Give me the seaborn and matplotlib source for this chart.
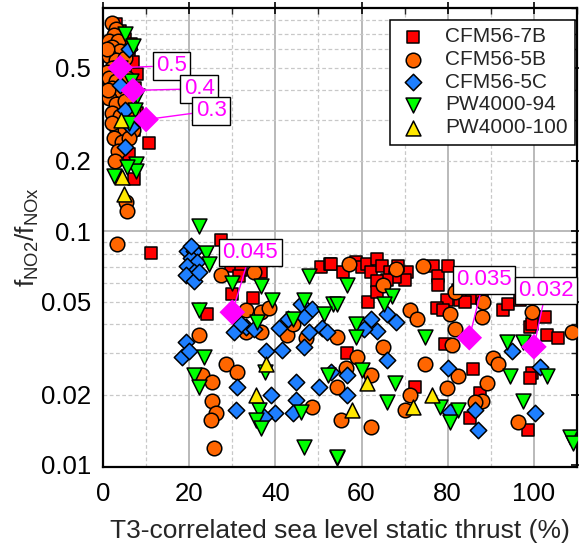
import numpy as np
import pandas as pd
import matplotlib
matplotlib.use("Agg")
import matplotlib.pyplot as plt
import seaborn as sns
from matplotlib.ticker import FixedLocator, NullFormatter, FixedFormatter

# ---------------- data ----------------
cfm7b_x = [4, 5, 3.5, 6, 7, 8, 5, 7.5, 6, 8, 9, 7.2, 6, 7.2, 10.7, 4.5, 6.5, 3, 2.5, 5.5,
           11.2, 27.4, 29.8, 36.7, 30, 34.7, 24.2, 50.7, 52.6, 53, 55.6, 58.8, 60, 61.2, 62.3, 63.7,
           64.7, 66.5, 70.5, 70, 67.7, 65.8, 63.7, 61.4, 63.5, 76.5, 77.7, 77.7, 80, 82.3, 79.8, 82.8,
           85.6, 77.4, 78.8, 79.3, 92.8, 94, 96.7, 102.6, 99.1, 103, 105.6, 56.7, 85.8, 72.3, 87.4,
           85.1, 98.6, 99.5, 99.1, 99.5, 32, 31.5, 84, 88, 68.5]
cfm7b_y = [0.72, 0.66, 0.62, 0.58, 0.53, 0.47, 0.45, 0.41, 0.35, 0.32, 0.30, 0.27, 0.214, 0.167, 0.239, 0.59, 0.63, 0.77, 0.52, 0.40,
           0.081, 0.092, 0.071, 0.067, 0.054, 0.052, 0.044, 0.070, 0.072, 0.072, 0.067, 0.074, 0.070, 0.072, 0.067, 0.076,
           0.071, 0.067, 0.067, 0.062, 0.0635, 0.062, 0.061, 0.050, 0.055, 0.071, 0.064, 0.059, 0.071, 0.056, 0.051, 0.051,
           0.052, 0.047, 0.046, 0.033, 0.046, 0.049, 0.051, 0.043, 0.039, 0.036, 0.035, 0.030, 0.0256, 0.0216, 0.0204,
           0.0159, 0.0141, 0.0248, 0.0236, 0.040, 0.068, 0.064, 0.050, 0.052, 0.071]

cfm5b_x = [2, 3, 2.5, 1.5, 3.5, 2, 4, 1.5, 3, 5, 2, 1, 1.5, 3, 5.5, 2, 4, 1.5, 3, 5, 2, 4, 6, 3, 5, 7,
           2.5, 4.5, 3.5, 6, 6.5, 2, 7, 5.3, 5.6, 3.3, 1, 1.2, 2.8,
           27.4, 35.1, 33.3, 36.7, 38.6, 33.3, 36.7, 42.8, 54.2, 22.3, 28.6, 31.2, 23, 25.3, 25.3, 26.3,
           25.1, 25.8, 48.4, 54.2, 57.2, 68.1, 64.9, 74.2, 81.6, 88.1, 87.9, 80.5, 81.6, 80.9, 99.5, 108.8,
           64.9, 59, 56.5, 62.3, 55.3, 71.2, 72.8, 74.7, 82.3, 79.8, 71.2, 70, 62.3, 89, 87.9, 86.3,
           90.5, 91.6, 96.3, 44, 47]
cfm5b_y = [0.78, 0.73, 0.69, 0.65, 0.65, 0.61, 0.59, 0.56, 0.54, 0.55, 0.50, 0.48, 0.45, 0.44, 0.45, 0.41, 0.40, 0.37, 0.35, 0.36, 0.32, 0.31, 0.31, 0.28, 0.27, 0.27,
           0.25, 0.24, 0.22, 0.25, 0.40, 0.29, 0.33, 0.133, 0.122, 0.088, 0.60, 0.40, 0.20,
           0.065, 0.067, 0.046, 0.045, 0.047, 0.037, 0.037, 0.036, 0.0354, 0.036, 0.027, 0.025, 0.0243, 0.0227, 0.0187, 0.0167,
           0.0156, 0.0118, 0.0177, 0.0216, 0.072, 0.069, 0.059, 0.071, 0.055, 0.050, 0.043, 0.044, 0.038, 0.0327, 0.045, 0.037,
           0.032, 0.029, 0.026, 0.0243, 0.0156, 0.046, 0.042, 0.027, 0.024, 0.0214, 0.020, 0.0172, 0.0146, 0.0225, 0.0187, 0.0185,
           0.0288, 0.0269, 0.0153, 0.040, 0.035]

cfm5c_x = [6, 4, 5, 6.5, 5,
           19.5, 21.2, 20.5, 21.9, 19.5, 21.2, 19.3, 21.2, 22.3, 20.5, 30.5, 33.3, 40.9, 37.9, 41.6, 46.7,
           46, 48.4, 46.7, 50.9, 47.9, 19.3, 18.4, 20, 31.2, 30.9, 39.1, 39.8, 37.4, 44.9, 44.9, 44, 50.2,
           62.3, 65.8, 63.7, 66, 56.7, 56.7, 80, 86.3, 80.5, 87, 94.9, 101.4, 100.2, 32, 35, 43, 52, 53, 68, 60.5]
cfm5c_y = [0.60, 0.42, 0.33, 0.28, 0.23,
           0.082, 0.082, 0.077, 0.074, 0.071, 0.067, 0.065, 0.061, 0.067, 0.086, 0.037, 0.039, 0.0387, 0.0306, 0.031, 0.0318,
           0.0486, 0.0463, 0.043, 0.0387, 0.0369, 0.0334, 0.029, 0.0306, 0.0216, 0.0172, 0.020, 0.0167, 0.016, 0.0227, 0.019, 0.0167, 0.0216,
           0.0419, 0.044, 0.0373, 0.0282, 0.020, 0.0243, 0.0261, 0.0172, 0.0169, 0.0141, 0.0306, 0.0263, 0.0167, 0.040, 0.038, 0.042, 0.037, 0.025, 0.041, 0.038]

pw94_x = [5, 7, 8, 6.5, 7.5, 7.7, 7.7, 5.6, 2.6, 4, 6,
          22.3, 24, 24.7, 22.3, 36.7, 39.3, 35.8, 46.7, 53.3, 51.4, 23.5, 21.2, 22.3, 37.7, 36.3, 35.6,
          36.7, 46, 52.1, 46.7, 54.2, 47.9, 67, 65.3, 56.7, 54.2, 58.8, 58.8, 60.2, 54.4, 74.7, 67.7,
          65.8, 82.3, 80.5, 78.1, 94.4, 93.7, 97.4, 97.4, 108.4, 109, 103, 44, 30]
pw94_y = [0.70, 0.62, 0.38, 0.44, 0.33, 0.194, 0.181, 0.188, 0.172, 0.50, 0.29,
          0.105, 0.081, 0.072, 0.046, 0.058, 0.051, 0.041, 0.051, 0.0486, 0.044, 0.029, 0.0243, 0.0216, 0.0249, 0.0172, 0.0156,
          0.0144, 0.0169, 0.0243, 0.0119, 0.0107, 0.064, 0.0526, 0.0486, 0.059, 0.0486, 0.040, 0.0354, 0.0255, 0.0108, 0.0354, 0.0225,
          0.0185, 0.0172, 0.0153, 0.0177, 0.0239, 0.0337, 0.0334, 0.0187, 0.0132, 0.0124, 0.0239, 0.042, 0.060]

pw100_x = [4.4, 4.9, 4.2, 35.6, 37.9, 61.2, 57.9, 76.3, 71.9]
pw100_y = [0.17, 0.144, 0.30, 0.020, 0.0269, 0.0225, 0.0172, 0.020, 0.0177]

hl_x = [4, 7, 10, 30, 85, 100]
hl_y = [0.5, 0.4, 0.3, 0.045, 0.035, 0.032]
hl_labels = ["0.5", "0.4", "0.3", "0.045", "0.035", "0.032"]

series_names = ["CFM56-7B", "CFM56-5B", "CFM56-5C", "PW4000-94", "PW4000-100"]
series_x = [cfm7b_x, cfm5b_x, cfm5c_x, pw94_x, pw100_x]
series_y = [cfm7b_y, cfm5b_y, cfm5c_y, pw94_y, pw100_y]

y_major = [0.01, 0.02, 0.05, 0.1, 0.2, 0.5]
x_major = [0, 20, 40, 60, 80, 100]

# ---------------- style ----------------
sns.set_theme(style="white")
plt.rcParams["font.family"] = ["Liberation Sans", "DejaVu Sans"]
plt.rcParams["mathtext.default"] = "regular"

colors = {"CFM56-7B": "#FF0000", "CFM56-5B": "#FF6600", "CFM56-5C": "#1E7FFF",
          "PW4000-94": "#00FF00", "PW4000-100": "#FFE800"}
markers = {"CFM56-7B": "s", "CFM56-5B": "o", "CFM56-5C": "D",
           "PW4000-94": "v", "PW4000-100": "^"}
sizes = {"CFM56-7B": 85, "CFM56-5B": 110, "CFM56-5C": 70, "PW4000-94": 115, "PW4000-100": 115}

frames = []
for n, xs, ys in zip(series_names, series_x, series_y):
    frames.append(pd.DataFrame({"thrust": xs, "ratio": ys, "engine": n}))
df = pd.concat(frames, ignore_index=True)

fig = plt.figure(figsize=(5.79, 5.50), dpi=100)
ax = fig.add_axes([103 / 579, 83 / 550, 474 / 579, 459 / 550])

ax.set_yscale("log")
ax.set_xlim(0, 110)
ax.set_ylim(0.0098, 0.9)

# grid
for xv in [20, 40, 60, 80, 100]:
    ax.axvline(xv, color="#b4b4b4", lw=1.3, zorder=0)
for xv in [10, 30, 50, 70, 90, 110]:
    ax.axvline(xv, color="#c8c8c8", lw=0.9, ls=(0, (3, 2)), zorder=0)
ax.axhline(0.1, color="#b4b4b4", lw=1.3, zorder=0)
for yv in [0.02, 0.03, 0.04, 0.05, 0.06, 0.07, 0.08, 0.09, 0.2, 0.3, 0.4, 0.5, 0.6, 0.7, 0.8]:
    ax.axhline(yv, color="#c8c8c8", lw=0.9, ls=(0, (3, 2)), zorder=0)

for n in series_names:
    sub = df[df["engine"] == n]
    sns.scatterplot(data=sub, x="thrust", y="ratio", ax=ax, color=colors[n], marker=markers[n],
                    s=sizes[n], edgecolor="black", linewidth=1.1, label=n, zorder=3, legend=True)

ax.scatter(hl_x, hl_y, marker="D", s=170, color="#FF00FF", edgecolor="none", zorder=5)

text_pos = [(15.9, 0.51), (22.3, 0.406), (25.1, 0.327), (34.2, 0.081), (88.4, 0.062), (102.8, 0.0558)]
for xv, yv, lab, tp in zip(hl_x, hl_y, hl_labels, text_pos):
    ax.annotate(lab, xy=(xv, yv), xytext=tp, ha="center", va="center", color="#FF00FF",
                fontsize=16, zorder=6,
                bbox=dict(boxstyle="square,pad=0.15", fc="white", ec="black", lw=1),
                arrowprops=dict(arrowstyle="-", color="#FF00FF", lw=1, shrinkA=0, shrinkB=0))

# ticks
ax.yaxis.set_major_locator(FixedLocator(y_major))
ax.yaxis.set_major_formatter(FixedFormatter([str(v) for v in y_major]))
ax.yaxis.set_minor_locator(FixedLocator([0.03, 0.04, 0.06, 0.07, 0.08, 0.09, 0.3, 0.4, 0.6, 0.7, 0.8, 0.9]))
ax.yaxis.set_minor_formatter(NullFormatter())
ax.set_xticks(x_major)
ax.set_xticks([10, 30, 50, 70, 90, 110], minor=True)
ax.tick_params(axis="both", which="major", direction="inout", length=9, width=1.2,
               labelsize=18.5, colors="black", top=True, right=True)
ax.tick_params(axis="both", which="minor", direction="in", length=4.5, width=1.0,
               top=True, right=True)
ax.tick_params(axis="x", which="major", pad=6)
ax.tick_params(axis="y", which="major", pad=4)

for sp in ax.spines.values():
    sp.set_color("black")
    sp.set_linewidth(1.6)

ax.set_xlabel("T3-correlated sea level static thrust (%)", fontsize=19, labelpad=10)
ax.set_ylabel(r"f$_{\mathregular{NO2}}$/f$_{\mathregular{NOx}}$", fontsize=19, labelpad=0)

leg = ax.legend(loc="upper right", bbox_to_anchor=(0.996, 0.974), fontsize=15, frameon=True,
                fancybox=False, edgecolor="black", framealpha=1, borderpad=0.35,
                labelspacing=0.18, handletextpad=0.8, borderaxespad=0, handlelength=1.5)
leg.get_frame().set_linewidth(1.1)

fig.savefig("out.png", dpi=100)
